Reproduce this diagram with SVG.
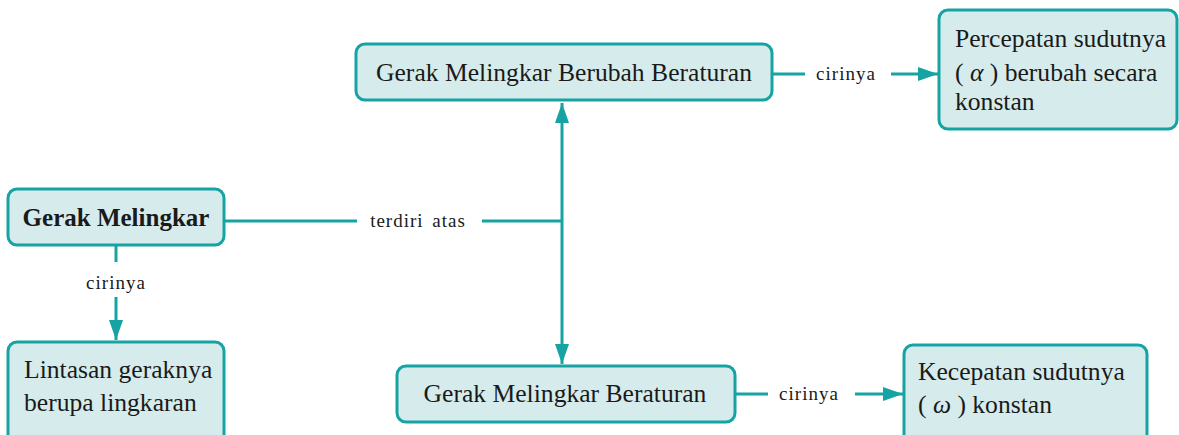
<svg xmlns="http://www.w3.org/2000/svg" width="1179" height="435" viewBox="0 0 1179 435">
<defs>
<style>
.box{fill:#d6ecec;stroke:#17a3a3;stroke-width:3}
.ln{fill:none;stroke:#17a3a3;stroke-width:3}
.t{font-family:"Liberation Serif","DejaVu Serif",serif;font-size:25.6px;fill:#1a1a1a}
.b{font-weight:bold;font-size:25px}
.lbl{font-family:"Liberation Serif","DejaVu Serif",serif;font-size:19px;fill:#1a1a1a;letter-spacing:1px}
</style>
<marker id="ah" viewBox="0 0 20 14" refX="20" refY="7" markerWidth="20" markerHeight="14" markerUnits="userSpaceOnUse" orient="auto">
<path d="M0,0 L20,7 L0,14 Z" fill="#17a3a3"/>
</marker>
</defs>
<rect width="1179" height="435" fill="#ffffff"/>
<g id="connectors">
<path class="ln" d="M224,221 H357"/>
<path class="ln" d="M482,221 H562"/>
<path class="ln" d="M562,221 V103" marker-end="url(#ah)"/>
<path class="ln" d="M562,221 V364" marker-end="url(#ah)"/>
<text class="lbl" x="418" y="227" text-anchor="middle" letter-spacing="1.3" word-spacing="3">terdiri atas</text>
<path class="ln" d="M116,245 V262"/>
<path class="ln" d="M116,297 V340" marker-end="url(#ah)"/>
<text class="lbl" x="116" y="289" text-anchor="middle">cirinya</text>
<path class="ln" d="M772,74 H805"/>
<path class="ln" d="M891,74 H938" marker-end="url(#ah)"/>
<text class="lbl" x="846" y="80" text-anchor="middle">cirinya</text>
<path class="ln" d="M735,394 H768"/>
<path class="ln" d="M855,394 H903" marker-end="url(#ah)"/>
<text class="lbl" x="809" y="400" text-anchor="middle">cirinya</text>
</g>
<g id="gerak-melingkar">
<rect class="box" x="8" y="189" width="216" height="56" rx="9"/>
<text class="t b" x="116" y="226" text-anchor="middle">Gerak Melingkar</text>
</g>
<g id="lintasan">
<rect class="box" x="8" y="342" width="216" height="110" rx="9"/>
<text class="t" x="24" y="378">Lintasan geraknya</text>
<text class="t" x="24" y="411">berupa lingkaran</text>
</g>
<g id="gmbb">
<rect class="box" x="356" y="44" width="416" height="56" rx="9"/>
<text class="t" x="564" y="81" text-anchor="middle">Gerak Melingkar Berubah Beraturan</text>
</g>
<g id="percepatan">
<rect class="box" x="939" y="10" width="238" height="119" rx="9"/>
<text class="t" x="955" y="47">Percepatan sudutnya</text>
<text class="t" x="955" y="81">( <tspan font-style="italic">α</tspan> ) berubah secara</text>
<text class="t" x="955" y="110">konstan</text>
</g>
<g id="gmb">
<rect class="box" x="397" y="366" width="338" height="56" rx="9"/>
<text class="t" x="565" y="402" text-anchor="middle">Gerak Melingkar Beraturan</text>
</g>
<g id="kecepatan">
<rect class="box" x="904" y="345" width="243" height="110" rx="9"/>
<text class="t" x="918" y="380">Kecepatan sudutnya</text>
<text class="t" x="918" y="413">( <tspan font-style="italic">ω</tspan> ) konstan</text>
</g>
</svg>
